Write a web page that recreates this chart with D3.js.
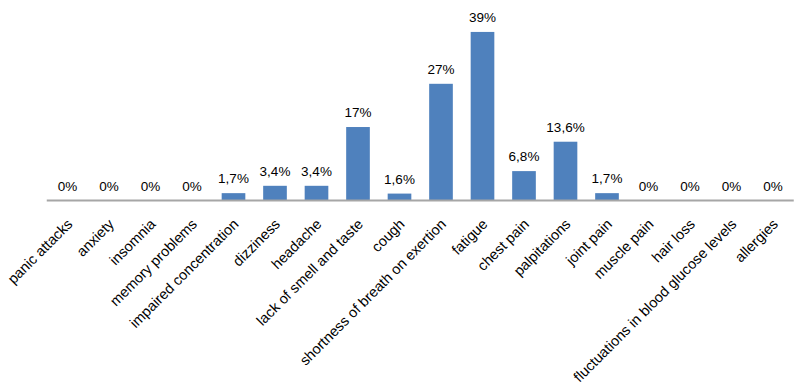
<!DOCTYPE html>
<html>
<head>
<meta charset="utf-8">
<script src="https://cdn.jsdelivr.net/npm/d3@7"></script>
<style>
html,body{margin:0;padding:0;background:#fff;}
svg{display:block;}
text{font-family:"Liberation Sans",Arial,sans-serif;fill:#000;}
</style>
</head>
<body>
<svg id="chart" width="800" height="388"></svg>
<script>
const categories = ["panic attacks","anxiety","insomnia","memory problems","impaired concentration","dizziness","headache","lack of smell and taste","cough","shortness of breath on exertion","fatigue","chest pain","palpitations","joint pain","muscle pain","hair loss","fluctuations in blood glucose levels","allergies"];
const values = [0,0,0,0,1.7,3.4,3.4,17,1.6,27,39,6.8,13.6,1.7,0,0,0,0];
const valueLabels = ["0%","0%","0%","0%","1,7%","3,4%","3,4%","17%","1,6%","27%","39%","6,8%","13,6%","1,7%","0%","0%","0%","0%"];
const yMax = 45;

const svg = d3.select("#chart");
const x = d3.scaleBand().domain(categories).range([46.75, 793.75]).paddingInner(0.43).paddingOuter(0.215);
const y = d3.scaleLinear().domain([0, yMax]).range([200.5, 6]);

const data = categories.map((c,i)=>({c, v: values[i], l: valueLabels[i]}));

svg.append("g").selectAll("rect").data(data).join("rect")
  .attr("x", d => x(d.c))
  .attr("width", x.bandwidth())
  .attr("y", d => y(d.v))
  .attr("height", d => y(0) - y(d.v))
  .attr("fill", "#4F81BD");

svg.append("line")
  .attr("x1", 46.75).attr("x2", 793.75)
  .attr("y1", 200.5).attr("y2", 200.5)
  .attr("stroke", "#A6A6A6").attr("stroke-width", 2);

svg.append("g").selectAll("text").data(data).join("text")
  .attr("x", d => x(d.c) + x.bandwidth()/2)
  .attr("y", d => y(d.v) - 10)
  .attr("text-anchor", "middle")
  .attr("font-size", "13.5px")
  .text(d => d.l);

svg.append("g").selectAll("text").data(data).join("text")
  .attr("transform", d => `translate(${x(d.c) + x.bandwidth()/2 + 6},${225}) rotate(-45)`)
  .attr("text-anchor", "end")
  .attr("font-size", "14.5px")
  .text(d => d.c);
</script>
</body>
</html>
